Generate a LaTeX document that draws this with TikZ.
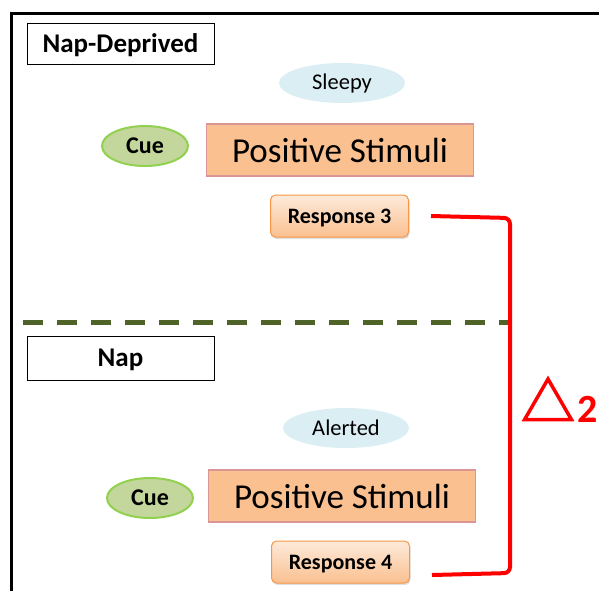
\documentclass[tikz,border=0pt]{standalone}
\usepackage{fontspec}
\setmainfont{Carlito}
\usetikzlibrary{shapes.geometric,shadows}

\definecolor{moodblue}{HTML}{DBEEF4}
\definecolor{cuefill}{HTML}{C3D69B}
\definecolor{cueline}{HTML}{92D050}
\definecolor{stimfill}{HTML}{FAC090}
\definecolor{stimline}{HTML}{D99694}
\definecolor{resptop}{HTML}{FDEADA}
\definecolor{respline}{HTML}{F79646}
\definecolor{olive}{HTML}{4F6228}

\tikzset{
	groupbox/.style={draw=black, line width=1pt, minimum width=187pt, text depth=0pt, font=\fontsize{27}{31}\selectfont\bfseries},
	mood/.style={ellipse, fill=moodblue, minimum width=126pt, minimum height=40pt, font=\fontsize{22.5}{26}\selectfont},
	cue/.style={ellipse, fill=cuefill, draw=cueline, line width=2pt, minimum width=86pt, minimum height=40pt, font=\fontsize{24}{28}\selectfont\bfseries},
	stimbox/.style={fill=stimfill, draw=stimline, line width=1.5pt, minimum width=267pt, minimum height=52pt, font=\fontsize{35}{40}\selectfont},
	resp/.style={rounded corners=5pt, top color=resptop, bottom color=stimfill, draw=respline, line width=1pt, drop shadow={opacity=0.25, shadow xshift=1pt, shadow yshift=-2pt}, minimum width=138pt, minimum height=42pt, text depth=0pt, font=\fontsize{22}{26}\selectfont\bfseries},
	bracket/.style={draw=red, line width=4pt, rounded corners=6pt}
}

\begin{document}
\begin{tikzpicture}[x=1pt, y=-1pt]
		\path[use as bounding box, clip] (0,0) rectangle (599,590);
		\draw[line width=3pt] (11.5,13.5) rectangle (640,640);

		\node[groupbox, minimum height=41pt] (nd) at (120.5,43.5) {Nap-Deprived};
		\node[mood] (sleepy) at (342,83) {Sleepy};
		\node[cue] (cue1) at (145,146) {Cue};
		\node[stimbox] (stim1) at (340,150) {Positive Stimuli};
		\node[resp] (resp3) at (339.5,216) {Response 3};

		\node[groupbox, minimum height=44pt] (nap) at (120.5,358) {Nap};
		\node[mood] (alerted) at (346,428) {Alerted};
		\node[cue] (cue2) at (150,498) {Cue};
		\node[stimbox] (stim2) at (342,496) {Positive Stimuli};
		\node[resp] (resp4) at (340.5,562) {Response 4};

		\coordinate (b3) at ([xshift=22pt]resp3.east);
		\coordinate (b4) at ([xshift=22pt, yshift=-13pt]resp4.east);
		\coordinate (btop) at (510,218);
		\coordinate (bbot) at (510,573);
		\coordinate (split) at (23,322);

		\draw[olive, line width=5pt, dash pattern=on 20pt off 14pt] (split) -- (split -| btop);
		\draw[bracket] (b3) -- (btop) -- (bbot) -- (b4);

		\node[regular polygon, regular polygon sides=3, draw=red, line width=3.5pt, inner sep=0pt, minimum size=54pt] (delta) at (548,406) {};
		\node[anchor=base west, text=red, inner sep=0pt, font=\fontsize{40}{44}\selectfont\bfseries] (two) at (577,422) {2};
	\end{tikzpicture}
\end{document}
